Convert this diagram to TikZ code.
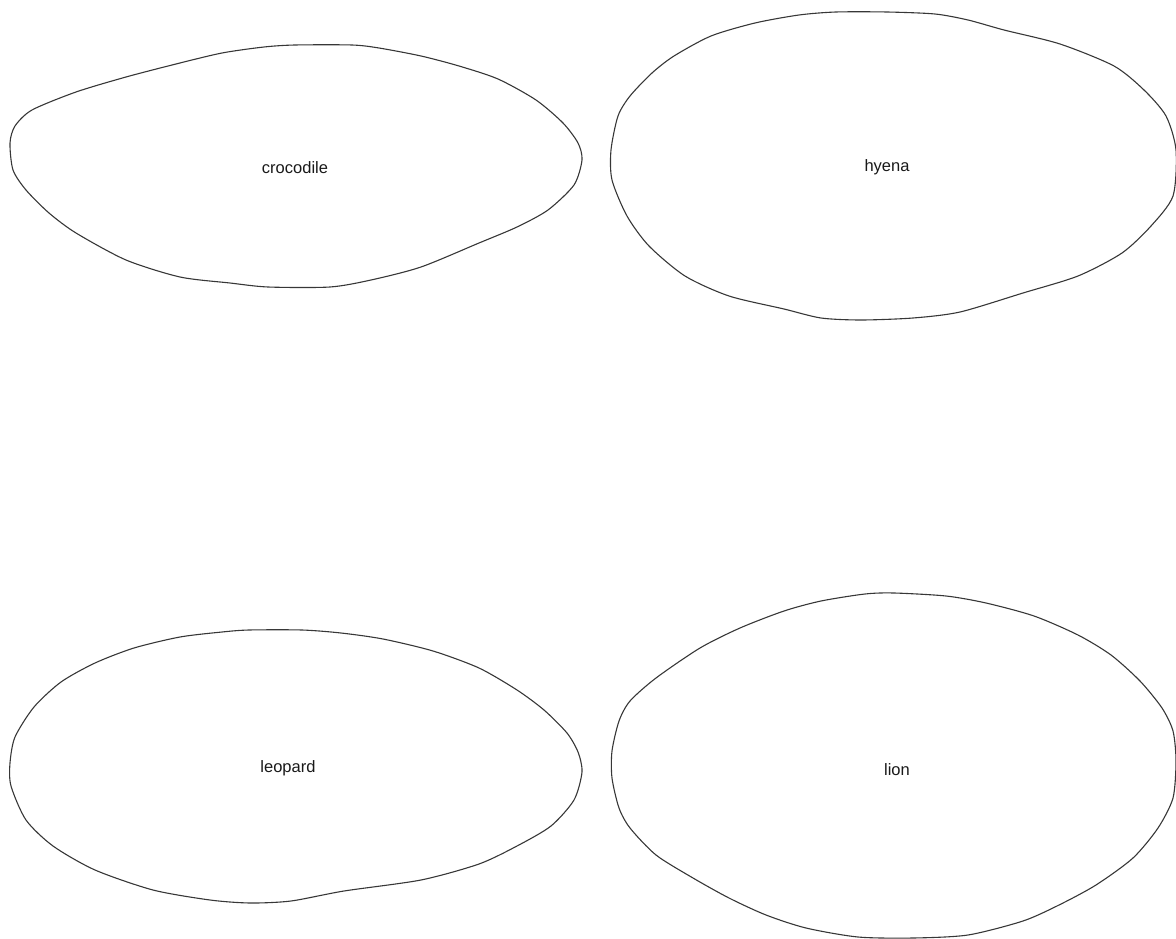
\documentclass[tikz,border=0pt]{standalone}
\usepackage{fontspec}
\setmainfont{Liberation Sans}
\definecolor{outline}{RGB}{55,55,55}
\definecolor{labeltext}{RGB}{25,25,25}
\tikzset{
  blob/.style={draw=outline, line width=1.1pt, line join=round},
  animal/.style={font=\fontsize{16.5}{19}\selectfont, text=labeltext, inner sep=0pt}
}
\begin{document}
\begin{tikzpicture}[x=1pt,y=-1pt]
\useasboundingbox (0,0) rectangle (1176,939);
% crocodile
\draw[blob] plot[smooth cycle, tension=0.45] coordinates {
 (295,45) (352,45) (379,48) (421,56) (459,66) (498,79) (536,100) (563,123)
 (578,143) (582,160) (574,185) (548,210) (517,227) (479,243) (421,267)
 (371,280) (330,287) (268,287) (230,283) (180,277) (126,260) (76,233)
 (49,213) (26,190) (13,170) (10,143) (15,126) (32,110) (76,92) (126,77)
 (176,64) (222,53) (264,47)};
\node[animal] (crocodile) at (295,168) {crocodile};
% hyena
\draw[blob] plot[smooth cycle, tension=0.45] coordinates {
 (836,12) (887,12) (935,14) (968,20) (1004,30) (1060,44) (1114,66) (1144,90)
 (1166,116) (1176,150) (1173,196) (1151,226) (1122,253) (1078,276)
 (1023,293) (960,312) (913,318) (861,320) (821,318) (784,309) (729,296)
 (685,276) (649,246) (627,216) (612,180) (611,150) (618,116) (630,96)
 (652,73) (674,56) (711,36) (755,23) (799,15)};
\node[animal] (hyena) at (887,167) {hyena};
% leopard
\draw[blob] plot[smooth cycle, tension=0.45] coordinates {
 (249,630) (302,630) (341,633) (383,639) (433,651) (479,668) (517,690)
 (544,710) (567,733) (578,752) (582,772) (574,800) (551,826) (517,846)
 (479,864) (421,880) (344,891) (291,901) (250,903) (210,900) (153,890)
 (95,870) (53,846) (26,820) (11,786) (10,763) (15,737) (34,707) (61,682)
 (95,663) (134,648) (180,637) (222,632)};
\node[animal] (leopard) at (288,768) {leopard};
% lion
\draw[blob] plot[smooth cycle, tension=0.45] coordinates {
 (865,594) (894,593) (946,596) (986,603) (1034,616) (1078,635) (1111,655)
 (1140,681) (1162,708) (1173,731) (1176,761) (1173,798) (1158,828)
 (1133,858) (1096,885) (1059,905) (1023,921) (968,935) (913,938) (858,937)
 (806,928) (766,915) (729,898) (693,878) (656,855) (630,828) (619,808)
 (612,778) (612,751) (619,721) (630,701) (656,678) (700,648) (740,628)
 (784,611) (821,601)};
\node[animal] (lion) at (897,770) {lion};
\end{tikzpicture}
\end{document}
